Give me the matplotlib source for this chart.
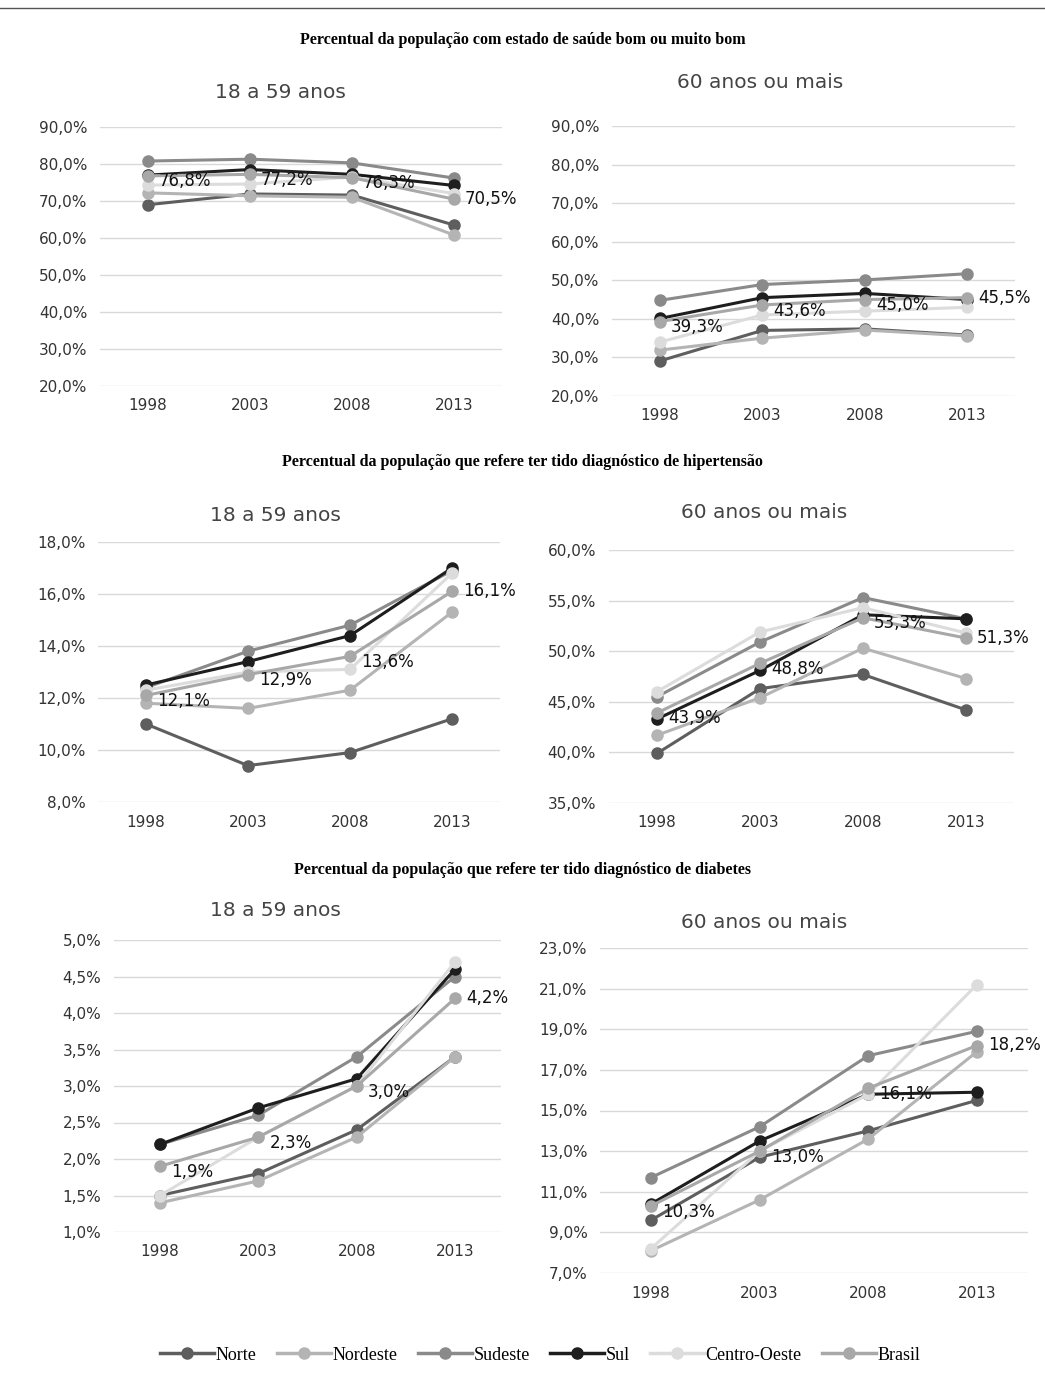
import matplotlib
matplotlib.use("Agg")
import matplotlib.pyplot as plt
import numpy as np

W, H = 1045, 1377
years = ["1998", "2003", "2008", "2013"]
regions = ["Norte", "Nordeste", "Sudeste", "Sul", "Centro-Oeste", "Brasil"]
colors = ["#5e5e5e", "#b4b4b4", "#8a8a8a", "#1e1e1e", "#dcdcdc", "#a8a8a8"]

saude_18 = [
    [69.0, 71.9, 71.6, 63.5],
    [72.2, 71.4, 71.0, 60.8],
    [80.8, 81.3, 80.3, 76.2],
    [77.0, 78.5, 77.2, 74.2],
    [74.3, 74.6, 76.5, 72.0],
    [76.8, 77.2, 76.3, 70.5],
]
saude_60 = [
    [29.1, 37.0, 37.4, 35.8],
    [31.9, 35.0, 37.1, 35.6],
    [44.8, 48.9, 50.1, 51.7],
    [40.1, 45.5, 46.6, 45.0],
    [34.0, 41.0, 42.0, 43.0],
    [39.3, 43.6, 45.0, 45.5],
]
hip_18 = [
    [11.0, 9.4, 9.9, 11.2],
    [11.8, 11.6, 12.3, 15.3],
    [12.4, 13.8, 14.8, 16.9],
    [12.5, 13.4, 14.4, 17.0],
    [12.3, 13.0, 13.1, 16.8],
    [12.1, 12.9, 13.6, 16.1],
]
hip_60 = [
    [39.9, 46.3, 47.7, 44.2],
    [41.7, 45.4, 50.3, 47.3],
    [45.5, 50.9, 55.3, 53.2],
    [43.3, 48.1, 53.6, 53.2],
    [46.0, 51.9, 54.3, 51.8],
    [43.9, 48.8, 53.3, 51.3],
]
diab_18 = [
    [1.5, 1.8, 2.4, 3.4],
    [1.4, 1.7, 2.3, 3.4],
    [2.2, 2.6, 3.4, 4.5],
    [2.2, 2.7, 3.1, 4.6],
    [1.5, 2.3, 3.0, 4.7],
    [1.9, 2.3, 3.0, 4.2],
]
diab_60 = [
    [9.6, 12.7, 14.0, 15.5],
    [8.1, 10.6, 13.6, 17.9],
    [11.7, 14.2, 17.7, 18.9],
    [10.4, 13.5, 15.8, 15.9],
    [8.2, 13.0, 15.8, 21.2],
    [10.3, 13.0, 16.1, 18.2],
]

# (data, x1998px, x2013px, ytop_px, ybot_px, ymax, ymin, step, title, title_xy)
panels = [
    (saude_18, 148, 454, 127, 386, 90, 20, 10, "18 a 59 anos", (280, 92)),
    (saude_60, 660, 967, 126, 396, 90, 20, 10, "60 anos ou mais", (760, 82)),
    (hip_18, 146, 452, 542, 802, 18, 8, 2, "18 a 59 anos", (275, 516)),
    (hip_60, 657, 966, 550, 803, 60, 35, 5, "60 anos ou mais", (764, 512)),
    (diab_18, 160, 455, 940, 1232, 5.0, 1.0, 0.5, "18 a 59 anos", (275, 911)),
    (diab_60, 651, 977, 948, 1273, 23, 7, 2, "60 anos ou mais", (764, 923)),
]

fig = plt.figure(figsize=(W / 100, H / 100), dpi=100)

def fmt(v):
    return f"{v:.1f}%".replace(".", ",")

for data, x0, x3, yt, yb, ymax, ymin, step, title, (tx, ty) in panels:
    dx = (x3 - x0) / 3
    left = x0 - dx * 0.47
    right = x3 + dx * 0.47
    ax = fig.add_axes([left / W, 1 - yb / H, (right - left) / W, (yb - yt) / H])
    ax.set_xlim(-0.47, 3.47)
    ax.set_ylim(ymin, ymax)
    ticks = np.arange(ymin, ymax + step / 2, step)
    ax.set_yticks(ticks)
    ax.set_yticklabels([fmt(t) for t in ticks], fontsize=11, color="#333333")
    ax.set_xticks(range(4))
    ax.set_xticklabels(years, fontsize=11, color="#333333")
    for s in ax.spines.values():
        s.set_visible(False)
    ax.tick_params(length=0, pad=9)
    ax.grid(axis="y", color="#d9d9d9", linewidth=1)
    ax.set_axisbelow(True)
    for vals, c in zip(data, colors):
        ax.plot(range(4), vals, "-o", color=c, linewidth=2.2, markersize=8, clip_on=False)
    for i, v in enumerate(data[-1]):
        ax.annotate(fmt(v), (i, v), xytext=(8, -4 if i < 3 else 0), textcoords="offset points",
                    fontsize=12, va="center", ha="left", color="#111111")
    fig.text(tx / W, 1 - ty / H, title, fontsize=14.5, color="#444444", ha="center", va="center")

sections = [
    (40, "Percentual da população com estado de saúde bom ou muito bom"),
    (462, "Percentual da população que refere ter tido diagnóstico de hipertensão"),
    (870, "Percentual da população que refere ter tido diagnóstico de diabetes"),
]
for y, t in sections:
    fig.text(0.5, 1 - y / H, t, fontsize=11.5, fontweight="bold", family="Liberation Serif",
             ha="center", va="center")

fig.add_artist(plt.Line2D([0, 1], [1 - 8 / H, 1 - 8 / H], color="#555555", linewidth=1))

handles = [plt.Line2D([], [], color=c, marker="o", linewidth=2.5, markersize=8) for c in colors]
fig.legend(handles, regions, loc="center", bbox_to_anchor=(0.517, 1 - 1355 / H), ncol=6,
           frameon=False, prop={"family": "Liberation Serif", "size": 13},
           handlelength=3.0, columnspacing=1.1, handletextpad=0.1)

fig.savefig("out.png", dpi=100)
